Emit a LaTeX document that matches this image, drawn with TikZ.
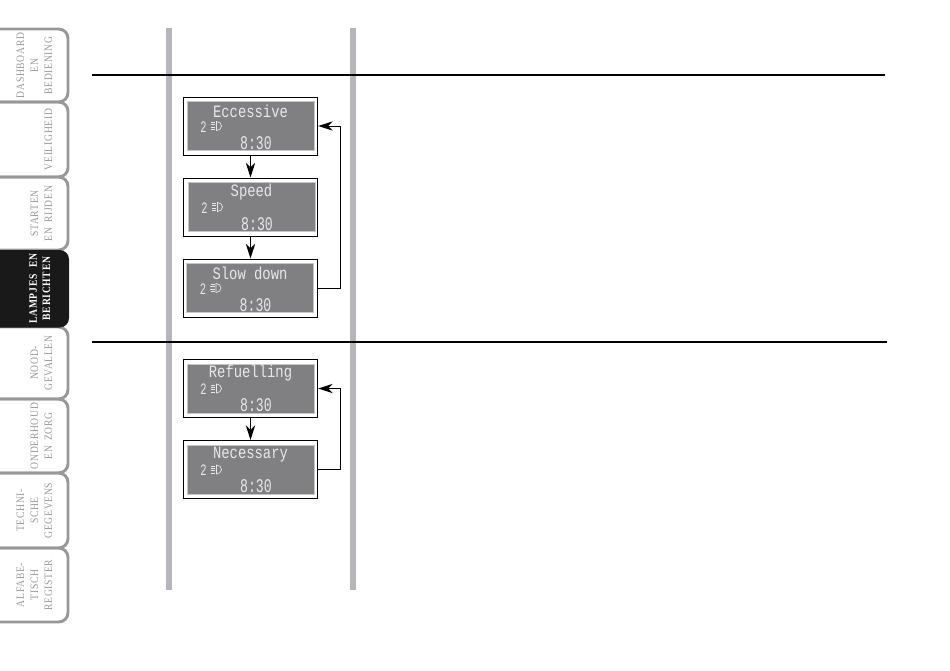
\documentclass[tikz,border=0pt]{standalone}
\usepackage{fontspec}
\setmonofont{Liberation Mono}
\newfontfamily\tabfont[FakeStretch=0.85,LetterSpace=6,WordSpace=1.6]{Liberation Serif}
\usepackage{xcolor}
\usetikzlibrary{arrows.meta}
\definecolor{tabgray}{HTML}{98989B}
\definecolor{bargray}{HTML}{B6B6BA}
\definecolor{lcdgray}{HTML}{808083}
\definecolor{lcdtext}{HTML}{E8E8E8}
\tikzset{
  every picture/.style={x=0.75pt,y=-0.75pt},
  tabbox/.style={draw=tabgray,line width=2.2pt,rounded corners=7pt},
  tabtext/.style={rotate=90,align=center,text=tabgray,font=\tabfont\fontsize{8.5}{10.5}\selectfont,inner sep=0pt},
  outerbox/.style={draw=black,line width=0.75pt,fill=white,minimum width=100.8pt,minimum height=43.5pt,inner sep=0pt},
  lcd/.style={fill=lcdgray,draw=lcdgray!45!white,line width=0.3pt,minimum width=95pt,minimum height=37pt,inner sep=0pt},
  lcdline/.style={text=lcdtext,font=\ttfamily\fontsize{13}{14}\selectfont,inner sep=0pt},
  lcdclock/.style={text=lcdtext,font=\ttfamily\fontsize{14.5}{16}\selectfont,inner sep=0pt},
  lcdsmall/.style={text=lcdtext,font=\ttfamily\fontsize{12}{13}\selectfont,inner sep=0pt},
  flow/.style={draw=black,line width=0.75pt,-{Stealth[length=11pt,width=7pt,inset=3.5pt]}},
}
\begin{document}
\begin{tikzpicture}
\useasboundingbox (0,0) rectangle (950,671);
% index tabs
\foreach \i/\ya/\yb/\txt in {
  1/29/102/{DASHBOARD\\EN\\BEDIENING},
  2/102/177/{VEILIGHEID},
  3/177/250/{STARTEN\\EN RIJDEN},
  5/327/399/{NOOD-\\GEVALLEN},
  6/399/473/{ONDERHOUD\\EN ZORG},
  7/473/548/{TECHNI-\\SCHE\\GEGEVENS},
  8/548/622/{ALFABE-\\TISCH\\REGISTER}}
{
  \draw[tabbox] (-12,\ya) -- (68,\ya) -- (68,\yb) -- (-12,\yb);
  \node[tabtext,anchor=south] (tab\i) at (52.5,{(\ya+\yb)/2}) {\txt};
}
\fill[black!90] [rounded corners=7pt] (-12,250) -- (69,250) -- (69,327.5) -- (-12,327.5) -- cycle;
\node[tabtext,anchor=south,text=white,font=\tabfont\bfseries\fontsize{8.5}{10}\selectfont] (tab4) at (50.5,288.5) {LAMPJES\hspace{1.5pt} EN\\BERICHTEN};
% columns and rules
\fill[bargray] (166,28) rectangle (172,590);
\fill[bargray] (350,28) rectangle (356,590);
\draw[black,line width=2.2pt] (92,75) -- (885,75);
\draw[black,line width=1.6pt] (92,342) -- (887,342);
% displays
\foreach \name/\yc/\off/\txt in {
  excess/126/0/Eccessive,
  speed/207/1/Speed,
  slow/288/-0.5/Slow down,
  refuel/388.5/0/Refuelling,
  needed/469.5/0/Necessary}
{
  \node[outerbox] (\name) at (250.5,\yc) {};
  \node[lcd] (\name-lcd) at (250.5+\off,\yc) {};
  \node[lcdline] (\name-txt) at (250.5+\off,\yc-15) {\scalebox{0.8}[1]{\txt}};
  \node[lcdsmall] (\name-gear) at (203.5+\off,\yc+1) {\scalebox{0.65}[1]{2}};
  \node[lcdclock] (\name-time) at (256+\off,\yc+17) {\scalebox{0.68}[1]{8:30}};
  % lamp symbol
  \draw[lcdtext,line width=0.5pt] (216.5+\off,\yc-4.5) arc (-90:90:5 and 4.5) -- cycle;
  \draw[lcdtext,line width=0.7pt] (211+\off,\yc-3.5) -- (215+\off,\yc-3.5)
    (210.5+\off,\yc-1.2) -- (215+\off,\yc-1.2) (210.5+\off,\yc+1.2) -- (215+\off,\yc+1.2)
    (211+\off,\yc+3.5) -- (215+\off,\yc+3.5);
}
% connectors
\coordinate (loopa) at (340,126);
\coordinate (loopb) at (340,388.5);
\draw[flow] (excess) -- (speed);
\draw[flow] (speed) -- (slow);
\draw[flow] (refuel) -- (needed);
\draw[flow] (slow.east) -| (loopa) -- (excess.east);
\draw[flow] (needed.east) -| (loopb) -- (refuel.east);
\end{tikzpicture}
\end{document}
